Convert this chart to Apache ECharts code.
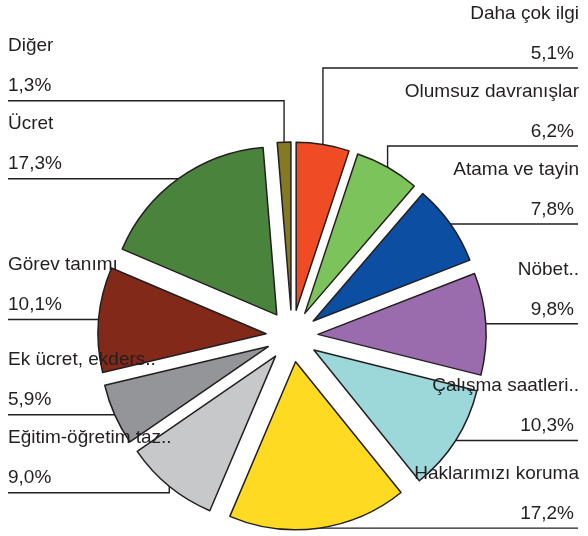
<!DOCTYPE html>
<html><head><meta charset="utf-8">
<script src="https://cdn.jsdelivr.net/npm/echarts@6/dist/echarts.min.js"></script>
<style>html,body{margin:0;padding:0;background:#fff}#c{width:588px;height:536px}</style>
</head><body><div id="c"></div>
<script>
const categories = ['Daha çok ilgi','Olumsuz davranışlar','Atama ve tayin','Nöbet..','Çalışma saatleri..','Haklarımızı koruma','Eğitim-öğretim taz..','Ek ücret, ekders..','Görev tanımı','Ücret','Diğer'];
const values = [5.1, 6.2, 7.8, 9.8, 10.3, 17.2, 9.0, 5.9, 10.1, 17.3, 1.3];
const colors = ['#EF4B24','#7BC35A','#0C4EA2','#9A6CAE','#9CD8DA','#FEDB22','#C7C8CA','#939598','#82291A','#4A843C','#847A23'];

const CX = 292, CY = 336, R = 168, OFFSET = 26, GAP = 78;
const LEFT_X = 8, RIGHT_X = 578;
const FONT = '"Liberation Sans", Arial, sans-serif';
const total = values.reduce((a, b) => a + b, 0);

// anchor point of each label line: middle of the exploded slice's outer arc
const anchors = [];
let cum = 0;
values.forEach(v => {
  const mid = (cum + v / 2) / total; cum += v;
  const a = (90 - mid * 360) * Math.PI / 180;
  const r = R + OFFSET;
  anchors.push({ x: CX + r * Math.cos(a), y: CY - r * Math.sin(a), left: CX + r * Math.cos(a) < CX });
});
const lineY = anchors.map(p => p.y);
[true, false].forEach(side => {
  const idx = anchors.map((p, i) => i).filter(i => anchors[i].left === side);
  const above = idx.filter(i => anchors[i].y < CY).sort((a, b) => anchors[b].y - anchors[a].y);
  const below = idx.filter(i => anchors[i].y >= CY).sort((a, b) => anchors[a].y - anchors[b].y);
  for (let k = 1; k < above.length; k++) lineY[above[k]] = Math.min(lineY[above[k]], lineY[above[k - 1]] - GAP);
  for (let k = 1; k < below.length; k++) lineY[below[k]] = Math.max(lineY[below[k]], lineY[below[k - 1]] + GAP);
});

const fmt = v => v.toFixed(1).replace('.', ',') + '%';

const chart = echarts.init(document.getElementById('c'));
chart.setOption({
  animation: false,
  backgroundColor: '#fff',
  series: [{
    // exploded slices
    type: 'pie',
    center: [CX, CY],
    radius: R,
    startAngle: 90,
    clockwise: true,
    selectedMode: 'multiple',
    selectedOffset: OFFSET,
    emphasis: { disabled: true },
    silent: true,
    itemStyle: { borderColor: '#231f20', borderWidth: 1.5 },
    data: categories.map((n, i) => ({ name: n, value: values[i], selected: true, itemStyle: { color: colors[i] } })),
    label: { show: false },
    labelLine: { show: false }
  }, {
    // labels with leader lines
    type: 'pie',
    center: [CX, CY],
    radius: R,
    startAngle: 90,
    clockwise: true,
    avoidLabelOverlap: false,
    emphasis: { disabled: true },
    silent: true,
    itemStyle: { color: 'rgba(0,0,0,0)', borderWidth: 0 },
    data: categories.map((n, i) => ({ name: n, value: values[i] })),
    label: {
      show: true,
      position: 'outside',
      color: '#231f20',
      fontFamily: FONT,
      fontSize: 19,
      formatter: p => '{n|' + p.name + '}\n{' + (anchors[p.dataIndex].left ? 'p' : 'pr') + '|' + fmt(p.value) + '}',
      rich: {
        n: { fontFamily: FONT, fontSize: 19, lineHeight: 40, color: '#231f20' },
        p: { fontFamily: FONT, fontSize: 19, lineHeight: 40, color: '#231f20' },
        pr: { fontFamily: FONT, fontSize: 19, lineHeight: 40, color: '#231f20', padding: [0, 5, 0, 0] }
      }
    },
    labelLine: { show: true, smooth: false, lineStyle: { color: '#231f20', width: 1.4 } },
    labelLayout: params => {
      const i = params.dataIndex;
      const p = anchors[i];
      const L = lineY[i];
      const ex = p.left ? LEFT_X : RIGHT_X;
      return {
        x: p.left ? LEFT_X : RIGHT_X + 1,
        y: L - 74.5,
        align: p.left ? 'left' : 'right',
        verticalAlign: 'top',
        labelLinePoints: [[p.x, p.y], [p.x, L], [ex, L]]
      };
    }
  }]
});
</script></body></html>
